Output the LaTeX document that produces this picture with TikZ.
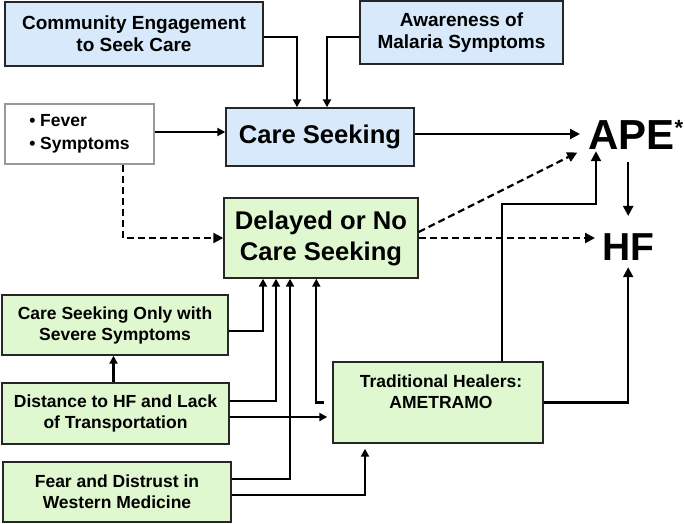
\documentclass[tikz,border=0pt]{standalone}
\usepackage{fontspec}
\setmainfont{Liberation Sans}
\usetikzlibrary{arrows.meta}

\definecolor{boxblue}{HTML}{D7E9FB}
\definecolor{boxgreen}{HTML}{DFF8D0}

\begin{document}
\begin{tikzpicture}[x=1pt,y=-1pt,
  box/.style={draw=black!85,line width=1.4pt,align=center,inner sep=2pt,font=\bfseries},
  bluebox/.style={box,fill=boxblue},
  greenbox/.style={box,fill=boxgreen},
  midfont/.style={font=\bfseries\fontsize{19}{22}\selectfont},
  smallfont/.style={font=\bfseries\fontsize{17.5}{21}\selectfont},
  bigfont/.style={font=\bfseries\fontsize{25.6}{31}\selectfont},
  outcome/.style={inner xsep=7pt,inner ysep=2pt,anchor=base west},
  conn/.style={line width=2.2pt,-{Triangle[length=8pt,width=8pt]}},
  bigconn/.style={conn,-{Triangle[length=10pt,width=10pt]}},
  dashconn/.style={bigconn,dash pattern=on 7pt off 4pt}]
\useasboundingbox (0,0) rectangle (685,523);

% top row
\node[bluebox,midfont,minimum width=258,minimum height=64] (comm) at (134,34) {Community Engagement\\to Seek Care};
\node[bluebox,midfont,minimum width=203,minimum height=63] (aware) at (461.5,32.5) {Awareness of\\Malaria Symptoms};

% middle
\node[box,draw=black!40,align=left,font=\bfseries\fontsize{17.5}{23}\selectfont,minimum width=149,minimum height=60] (fever) at (79.5,134) {\textbullet\ Fever\\\textbullet\ Symptoms};
\node[bluebox,bigfont,minimum width=188,minimum height=58] (care) at (320,137) {Care Seeking};
\node[greenbox,bigfont,minimum width=194,minimum height=80] (delay) at (321,238) {Delayed or No\\Care Seeking};

% outcomes
\node[outcome,font=\bfseries\fontsize{42}{42}\selectfont,inner xsep=8pt] (ape) at (580,149) {APE{\fontsize{22}{22}\selectfont\raisebox{14pt}{*}}};
\node[outcome,font=\bfseries\fontsize{39}{39}\selectfont] (hf) at (595,260) {HF};

% barriers
\node[greenbox,smallfont,minimum width=226,minimum height=60] (sev) at (115,325) {Care Seeking Only with\\Severe Symptoms};
\node[greenbox,smallfont,minimum width=227,minimum height=61] (dist) at (115.5,413.5) {Distance to HF and Lack\\of Transportation};
\node[greenbox,smallfont,minimum width=228,minimum height=60] (fear) at (117,492) {Fear and Distrust in\\Western Medicine};
\node[greenbox,minimum width=210,minimum height=81] (trad) at (438,402.5) {};
\node[smallfont,align=center] (tradtext) at (441,391.5) {Traditional Healers:\\AMETRAMO};

\coordinate (tj) at (596,204);

\draw[conn] ([yshift=-3pt]comm.east) -| ([xshift=-23pt]care.north);
\draw[conn] ([yshift=-4.5pt]aware.west) -| ([xshift=7pt]care.north);
\draw[conn] ([yshift=2pt]fever.east) -- ([yshift=2pt]fever.east -| care.west);
\draw[bigconn] ([yshift=3pt]care.east) -- ([yshift=3pt]care.east -| ape.west);
\draw[dashconn] ([xshift=43.5pt]fever.south) |- (delay.west);
\draw[dashconn,shorten >=3pt] ([yshift=6pt]delay.east) -- (ape.south west);
\draw[dashconn] (delay.east) -- (delay.east -| hf.west);
\draw[bigconn,shorten <=11pt,shorten >=15pt] (ape.south -| hf.north) -- (hf.north);
\draw[bigconn] ([xshift=64pt]trad.north) |- (tj) -- (tj |- ape.south);
\draw[bigconn,shorten >=5pt] (trad.east) -| (hf.south);
\draw[conn] ([yshift=-6pt]sev.east) -| ([xshift=-58pt]delay.south);
\draw[conn] ([xshift=-2pt]dist.north) -- ([xshift=-2pt]dist.north |- sev.south);
\draw[conn] ([yshift=12.5pt]dist.east) -| ([xshift=-45pt]delay.south);
\draw[conn,shorten >=5pt] ([yshift=-3.5pt]dist.east) -- ([yshift=-3.5pt]dist.east -| trad.west);
\draw[conn] ([yshift=13pt]fear.east) -| ([xshift=-31pt]delay.south);
\draw[conn,shorten >=5pt] ([yshift=-3pt]fear.east) -| ([xshift=-73pt]trad.south);
\draw[conn] ([xshift=-8pt]trad.west) -- ([xshift=-16pt]trad.west) -- ([xshift=-16pt]trad.west |- delay.south);
\end{tikzpicture}
\end{document}
